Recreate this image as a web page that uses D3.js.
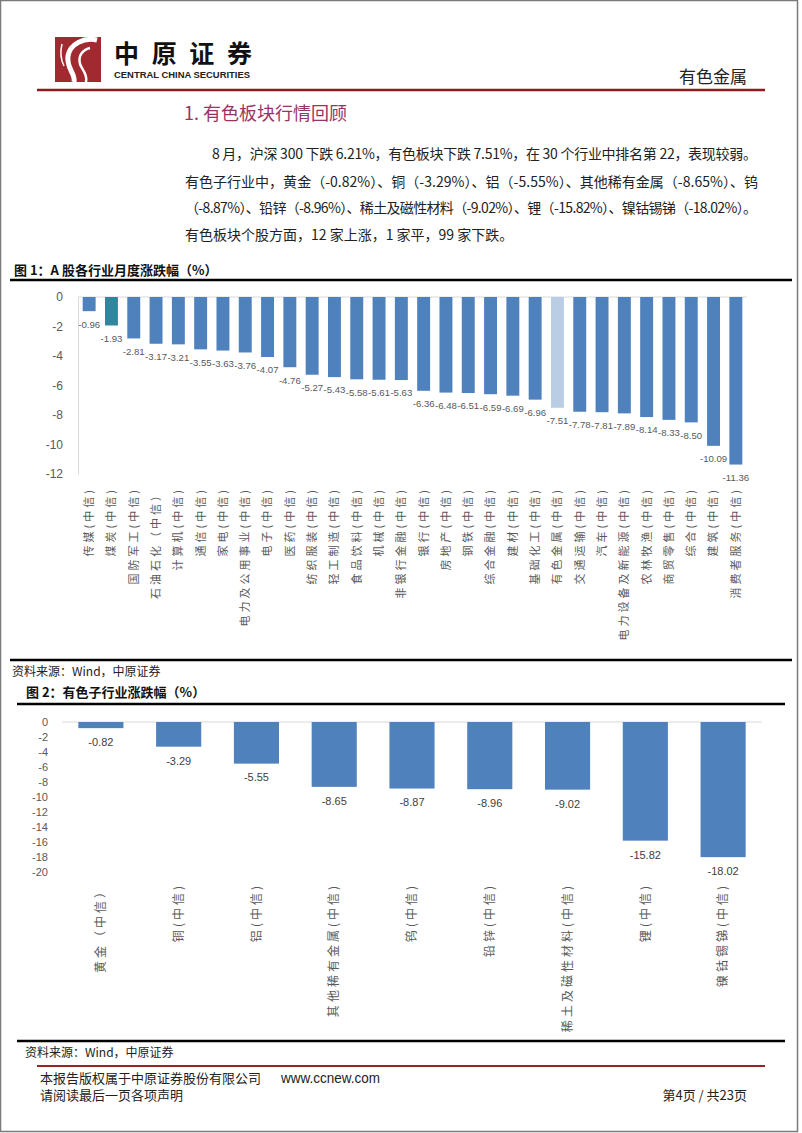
<!DOCTYPE html>
<html><head><meta charset="utf-8">
<script src="https://cdn.jsdelivr.net/npm/d3@7"></script>
<style>
body{margin:0;background:#fff;}
svg{display:block;}
text{font-family:"Noto Sans CJK SC","Liberation Sans",sans-serif;}
.num{font-family:"Liberation Sans",Arial,sans-serif;}
</style>
</head><body>
<svg id="page" width="802" height="1133"></svg>
<script>
// ---------- Data ----------
const industryLabels = ["传媒(中信)","煤炭(中信)","国防军工(中信)","石油石化（中信）","计算机(中信)","通信(中信)","家电(中信)","电力及公用事业(中信)","电子(中信)","医药(中信)","纺织服装(中信)","轻工制造(中信)","食品饮料(中信)","机械(中信)","非银行金融(中信)","银行(中信)","房地产(中信)","钢铁(中信)","综合金融(中信)","建材(中信)","基础化工(中信)","有色金属(中信)","交通运输(中信)","汽车(中信)","电力设备及新能源(中信)","农林牧渔(中信)","商贸零售(中信)","综合(中信)","建筑(中信)","消费者服务(中信)"];
const industryChanges = [-0.96,-1.93,-2.81,-3.17,-3.21,-3.55,-3.63,-3.76,-4.07,-4.76,-5.27,-5.43,-5.58,-5.61,-5.63,-6.36,-6.48,-6.51,-6.59,-6.69,-6.96,-7.51,-7.78,-7.81,-7.89,-8.14,-8.33,-8.50,-10.09,-11.36];
const chart1Ticks = [0,-2,-4,-6,-8,-10,-12];

const subLabels = ["黄金（中信）","铜(中信)","铝(中信)","其他稀有金属(中信)","钨(中信)","铅锌(中信)","稀土及磁性材料(中信)","锂(中信)","镍钴锡锑(中信)"];
const subChanges = [-0.82,-3.29,-5.55,-8.65,-8.87,-8.96,-9.02,-15.82,-18.02];
const chart2Ticks = [0,-2,-4,-6,-8,-10,-12,-14,-16,-18,-20];

const paragraphLines = [
  "8 月，沪深 300 下跌 6.21%，有色板块下跌 7.51%，在 30 个行业中排名第 22，表现较弱。",
  "有色子行业中，黄金（-0.82%）、铜（-3.29%）、铝（-5.55%）、其他稀有金属（-8.65%）、钨",
  "（-8.87%）、铅锌（-8.96%）、稀土及磁性材料（-9.02%）、锂（-15.82%）、镍钴锡锑（-18.02%）。",
  "有色板块个股方面，12 家上涨，1 家平，99 家下跌。"
];

const fmt2 = v => d3.format(".2f")(v).replace("\u2212","-");
const fmtInt = v => d3.format("d")(v).replace("\u2212","-");

// ---------- Page ----------
const svg = d3.select("#page");
svg.append("rect").attr("x",0).attr("y",0).attr("width",802).attr("height",1133).attr("fill","#fff");
svg.append("rect").attr("x",0.5).attr("y",0.5).attr("width",797).attr("height",1131)
  .attr("fill","none").attr("stroke","#7a7a7a").attr("stroke-width",1.5);

// header logo
const logo = svg.append("g");
logo.append("rect").attr("x",55).attr("y",37).attr("width",46).attr("height",45).attr("fill","#a02a2f");
logo.append("path").attr("d","M97 40 C84 37 70 44 68 56 C66 68 76 74 74 82")
  .attr("fill","none").attr("stroke","#fff").attr("stroke-width",5);
logo.append("path").attr("d","M90 48 C82 50 78 56 80 64 C82 70 88 74 86 82")
  .attr("fill","none").attr("stroke","#fff").attr("stroke-width",2.5);
logo.append("path").attr("d","M62 44 C60 52 61 60 64 66")
  .attr("fill","none").attr("stroke","#fff").attr("stroke-width",1.5);
svg.append("text").attr("x",114).attr("y",63).attr("font-size",25).attr("font-weight","bold")
  .attr("fill","#111").attr("textLength",138).attr("lengthAdjust","spacing").text("中原证券");
svg.append("text").attr("x",114).attr("y",78).attr("font-size",8.5).attr("font-weight","bold")
  .attr("class","num").attr("fill","#222").attr("textLength",136).attr("lengthAdjust","spacingAndGlyphs")
  .text("CENTRAL CHINA SECURITIES");
svg.append("text").attr("x",747).attr("y",83).attr("font-size",17).attr("text-anchor","end")
  .attr("fill","#222").text("有色金属");
svg.append("line").attr("x1",37).attr("x2",765).attr("y1",90).attr("y2",90)
  .attr("stroke","#8e1b1f").attr("stroke-width",2.5);

// section title
svg.append("text").attr("x",184).attr("y",120).attr("font-size",18).attr("fill","#993366")
  .text("1. 有色板块行情回顾");

// paragraph
const paraPos = [{x:212,y:159,w:545},{x:185,y:187,w:573},{x:185,y:213,w:572},{x:185,y:240,w:null}];
paragraphLines.forEach((t,i)=>{
  const p = paraPos[i];
  const el = svg.append("text").attr("x",p.x).attr("y",p.y).attr("font-size",14).attr("fill","#222").text(t);
  if(p.w) el.attr("textLength",p.w).attr("lengthAdjust","spacing");
});

// ---------- Figure 1 ----------
svg.append("text").attr("x",14).attr("y",275).attr("font-size",13).attr("font-weight","bold")
  .attr("fill","#111").text("图 1：A 股各行业月度涨跌幅（%）");
svg.append("line").attr("x1",10).attr("x2",792).attr("y1",280).attr("y2",280).attr("stroke","#000").attr("stroke-width",2.5);

const x1 = d3.scaleBand().domain(industryLabels).range([78,747]).paddingInner(0.42).paddingOuter(0.21);
const y1 = d3.scaleLinear().domain([0,-12]).range([297,474]);
const g1 = svg.append("g");

const ax1 = g1.append("g").attr("transform","translate(78,0)")
  .call(d3.axisLeft(y1).tickValues(chart1Ticks).tickSize(0).tickPadding(15).tickFormat(fmtInt));
ax1.select(".domain").attr("stroke","#d9d9d9");
ax1.selectAll("text").attr("class","num").attr("font-size",12).attr("fill","#595959");

g1.append("line").attr("x1",78).attr("x2",747).attr("y1",y1(0)).attr("y2",y1(0)).attr("stroke","#d9d9d9");

function barColor1(label){
  if(label.startsWith("煤炭")) return "#31859c";
  if(label.startsWith("有色金属")) return "#b9cde5";
  return "#4f81bd";
}
g1.selectAll("rect.bar").data(industryLabels).join("rect").attr("class","bar")
  .attr("x",d=>x1(d)).attr("width",x1.bandwidth())
  .attr("y",y1(0)).attr("height",(d,i)=>y1(industryChanges[i])-y1(0))
  .attr("fill",d=>barColor1(d));
g1.selectAll("text.val").data(industryLabels).join("text").attr("class","val num")
  .attr("x",d=>x1(d)+x1.bandwidth()/2).attr("y",(d,i)=>y1(industryChanges[i])+13)
  .attr("dy","0.35em").attr("text-anchor","middle").attr("font-size",9.6).attr("fill","#595959")
  .text((d,i)=>fmt2(industryChanges[i]));
g1.selectAll("text.cat").data(industryLabels).join("text").attr("class","cat")
  .attr("transform",d=>`translate(${x1(d)+x1.bandwidth()/2},487) rotate(-90)`)
  .attr("text-anchor","end").attr("dy","0.35em").attr("font-size",11).attr("letter-spacing",3)
  .attr("fill","#595959").text(d=>d);

svg.append("line").attr("x1",10).attr("x2",792).attr("y1",660).attr("y2",660).attr("stroke","#000").attr("stroke-width",2.5);
svg.append("text").attr("x",12).attr("y",676).attr("font-size",12).attr("fill","#222").text("资料来源：Wind，中原证券");

// ---------- Figure 2 ----------
svg.append("text").attr("x",26).attr("y",697).attr("font-size",13).attr("font-weight","bold")
  .attr("fill","#111").text("图 2：有色子行业涨跌幅（%）");
svg.append("line").attr("x1",17).attr("x2",785).attr("y1",704).attr("y2",704).attr("stroke","#000").attr("stroke-width",2.5);

const x2 = d3.scaleBand().domain(subLabels).range([62,762]).paddingInner(0.42).paddingOuter(0.21);
const y2 = d3.scaleLinear().domain([0,-20]).range([722,872]);
const g2 = svg.append("g");
const ax2 = g2.append("g").attr("transform","translate(62,0)")
  .call(d3.axisLeft(y2).tickValues(chart2Ticks).tickSize(0).tickPadding(14).tickFormat(fmtInt));
ax2.select(".domain").remove();
ax2.selectAll("text").attr("class","num").attr("font-size",11).attr("fill","#595959");
g2.append("line").attr("x1",62).attr("x2",762).attr("y1",y2(0)).attr("y2",y2(0)).attr("stroke","#d9d9d9");

g2.selectAll("rect.bar").data(subLabels).join("rect").attr("class","bar")
  .attr("x",d=>x2(d)).attr("width",x2.bandwidth())
  .attr("y",y2(0)).attr("height",(d,i)=>y2(subChanges[i])-y2(0))
  .attr("fill","#4f81bd");
g2.selectAll("text.val").data(subLabels).join("text").attr("class","val num")
  .attr("x",d=>x2(d)+x2.bandwidth()/2).attr("y",(d,i)=>y2(subChanges[i])+14)
  .attr("dy","0.35em").attr("text-anchor","middle").attr("font-size",11).attr("fill","#404040")
  .text((d,i)=>fmt2(subChanges[i]));
g2.selectAll("text.cat").data(subLabels).join("text").attr("class","cat")
  .attr("transform",d=>`translate(${x2(d)+x2.bandwidth()/2},883) rotate(-90)`)
  .attr("text-anchor","end").attr("dy","0.35em").attr("font-size",12).attr("letter-spacing",3)
  .attr("fill","#595959").text(d=>d);

svg.append("line").attr("x1",17).attr("x2",785).attr("y1",1041).attr("y2",1041).attr("stroke","#000").attr("stroke-width",2.5);
svg.append("text").attr("x",25).attr("y",1057).attr("font-size",12).attr("fill","#222").text("资料来源：Wind，中原证券");

// ---------- Footer ----------
svg.append("line").attr("x1",37).attr("x2",765).attr("y1",1066).attr("y2",1066).attr("stroke","#9b2226").attr("stroke-width",2);
svg.append("text").attr("x",40).attr("y",1083).attr("font-size",13).attr("fill","#222").text("本报告版权属于中原证券股份有限公司");
svg.append("text").attr("x",281).attr("y",1083).attr("font-size",14).attr("class","num").attr("fill","#222")
  .attr("textLength",99).attr("lengthAdjust","spacingAndGlyphs").text("www.ccnew.com");
svg.append("text").attr("x",40).attr("y",1100).attr("font-size",13).attr("fill","#222").text("请阅读最后一页各项声明");
svg.append("text").attr("x",747).attr("y",1100).attr("font-size",13).attr("text-anchor","end").attr("fill","#222").text("第4页 / 共23页");
</script>
</body></html>
